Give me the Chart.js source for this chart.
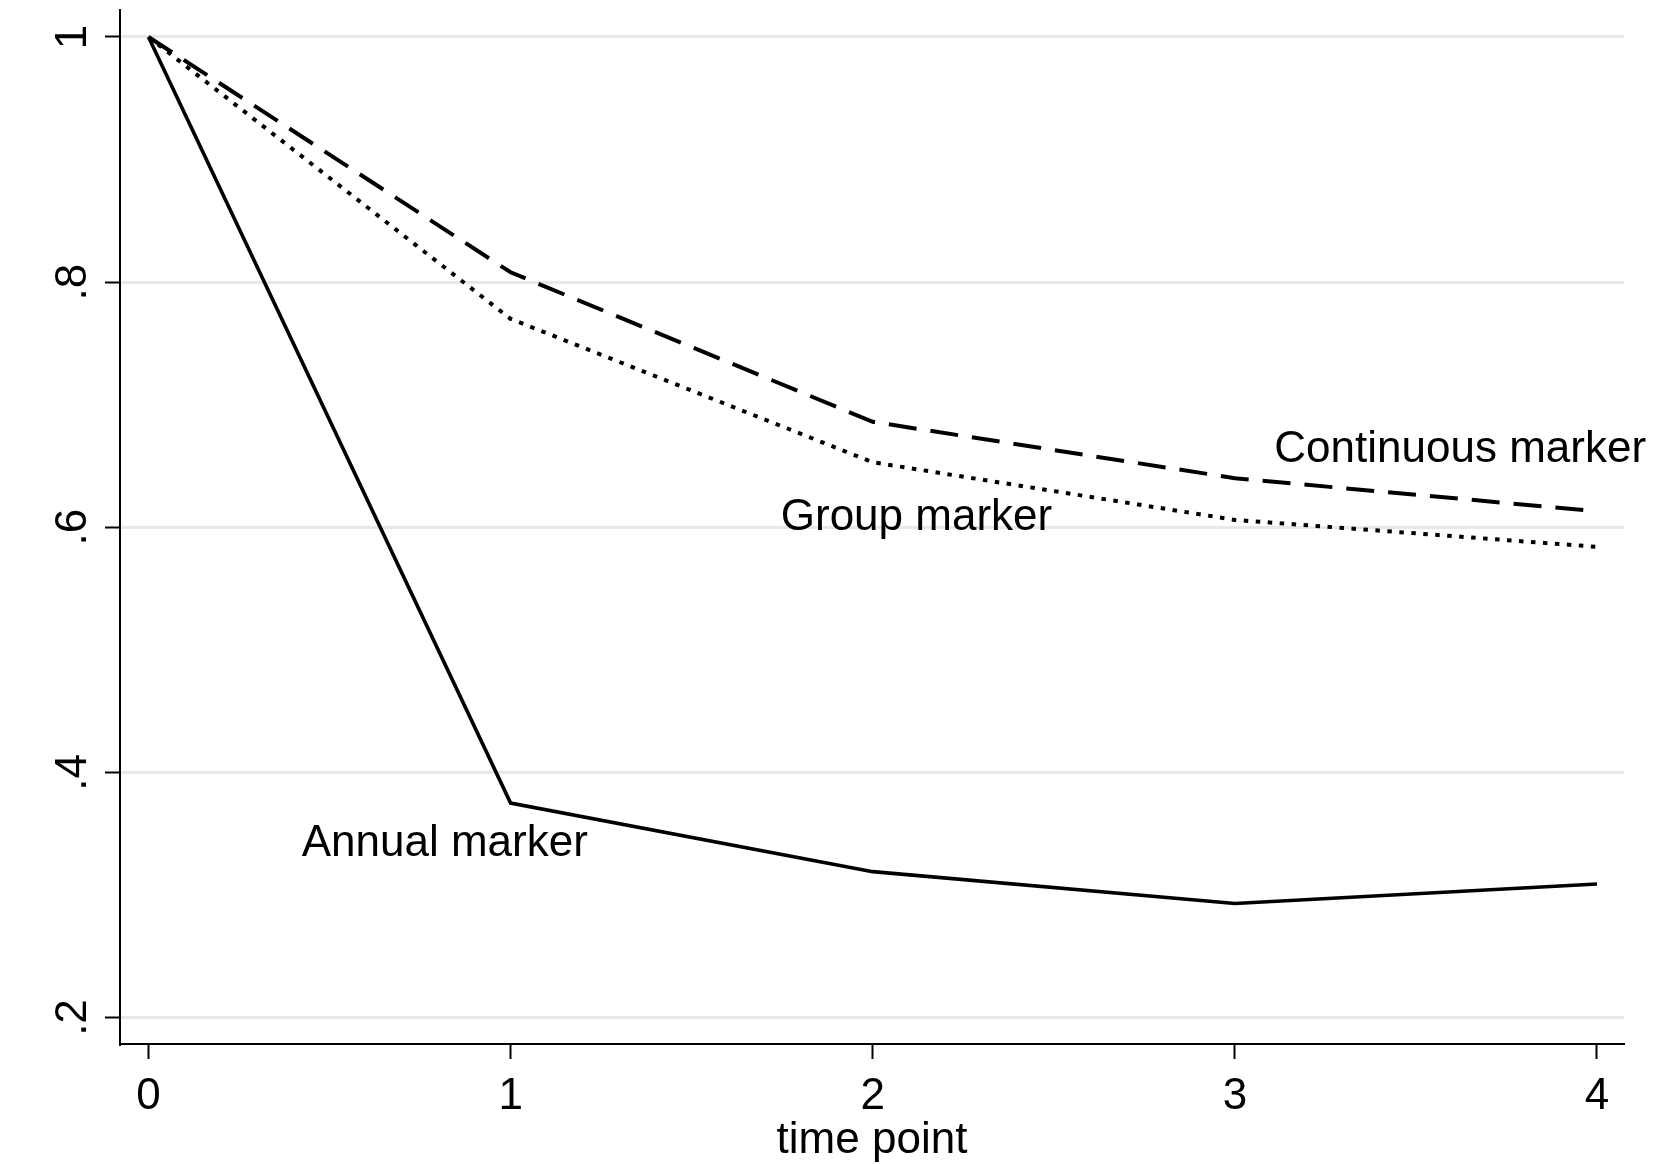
<!DOCTYPE html>
<html>
<head>
<meta charset="utf-8">
<script src="https://cdn.jsdelivr.net/npm/chart.js@4.4.0/dist/chart.umd.min.js"></script>
<style>
html,body{margin:0;padding:0;background:#fff;}
canvas{display:block;}
</style>
</head>
<body>
<canvas id="chart" width="1657" height="1164"></canvas>
<script>
const timePoints = [0, 1, 2, 3, 4];
const annualMarker = [1, 0.375, 0.319, 0.293, 0.309];
const continuousMarker = [1, 0.808, 0.686, 0.640, 0.613];
const groupMarker = [1, 0.770, 0.653, 0.606, 0.584];

const xTicks = [0, 1, 2, 3, 4];
const yTicks = [0.2, 0.4, 0.6, 0.8, 1];
const yTickLabels = [".2", ".4", ".6", ".8", "1"];
const xTitle = "time point";

// in-plot text labels, placed in data units
const seriesNotes = [
    {text:"Continuous marker", x:3.109, y:0.663},
    {text:"Group marker", x:1.746, y:0.608},
    {text:"Annual marker", x:0.423, y:0.342}
];

const FONT = '"Liberation Sans", Arial, sans-serif';
Chart.defaults.font.family = FONT;
Chart.defaults.color = "#000";

const toPoints = vals => timePoints.map((t,i)=>({x:t, y:vals[i]}));

/* ===== TEXT: rotated y labels + series notes ===== */
const textPlugin = {
    id:"textPlugin",
    afterDraw(chart){
        const {ctx, scales:{x, y}} = chart;
        ctx.save();
        ctx.fillStyle = "#000";
        ctx.font = "44px " + FONT;

        ctx.textAlign = "center";
        ctx.textBaseline = "alphabetic";
        yTicks.forEach((v,i)=>{
            ctx.save();
            ctx.translate(86, y.getPixelForValue(v));
            ctx.rotate(-Math.PI/2);
            ctx.fillText(yTickLabels[i], 0, 0);
            ctx.restore();
        });

        ctx.textAlign = "left";
        ctx.textBaseline = "middle";
        seriesNotes.forEach(n=>{
            ctx.fillText(n.text, x.getPixelForValue(n.x), y.getPixelForValue(n.y));
        });
        ctx.restore();
    }
};

const line = (label, vals, width, dash) => ({
    label,
    data:toPoints(vals),
    borderColor:"#000",
    borderWidth:width,
    borderDash:dash,
    borderCapStyle:"butt",
    borderJoinStyle:"miter",
    pointRadius:0,
    fill:false,
    tension:0
});

new Chart(document.getElementById("chart"),{
    type:"line",
    data:{
        datasets:[
            line("Annual marker", annualMarker, 3.6, []),
            line("Continuous marker", continuousMarker, 4, [28,14]),
            line("Group marker", groupMarker, 4, [4.5,7.5])
        ]
    },
    options:{
        responsive:false,
        animation:false,
        layout:{padding:{top:10, right:33, left:0, bottom:0}},
        plugins:{legend:{display:false}, tooltip:{enabled:false}},
        scales:{
            x:{
                type:"linear",
                min:-0.0787,
                max:4.0746,
                afterBuildTicks:s=>{ s.ticks = xTicks.map(v=>({value:v})); },
                afterFit:s=>{ s.height = 120; },
                grid:{
                    drawOnChartArea:false,
                    drawTicks:true,
                    tickLength:15,
                    tickColor:"#000",
                    tickWidth:2
                },
                border:{display:true, color:"#000", width:2},
                ticks:{
                    font:{size:44},
                    color:"#000",
                    padding:11,
                    maxRotation:0,
                    autoSkip:false,
                    callback:v=>String(v)
                },
                title:{
                    display:true,
                    text:xTitle,
                    font:{size:44, lineHeight:1.0},
                    color:"#000",
                    padding:{top:0, bottom:1}
                }
            },
            y:{
                type:"linear",
                min:0.1784,
                max:1.022,
                afterBuildTicks:s=>{ s.ticks = yTicks.map(v=>({value:v})); },
                afterFit:s=>{ s.width = 120; },
                grid:{
                    color:"#e8e8e8",
                    lineWidth:3,
                    drawTicks:true,
                    tickLength:15,
                    tickColor:"#000",
                    tickWidth:2
                },
                border:{display:true, color:"#000", width:2},
                ticks:{display:false}
            }
        }
    },
    plugins:[textPlugin]
});
</script>
</body>
</html>
